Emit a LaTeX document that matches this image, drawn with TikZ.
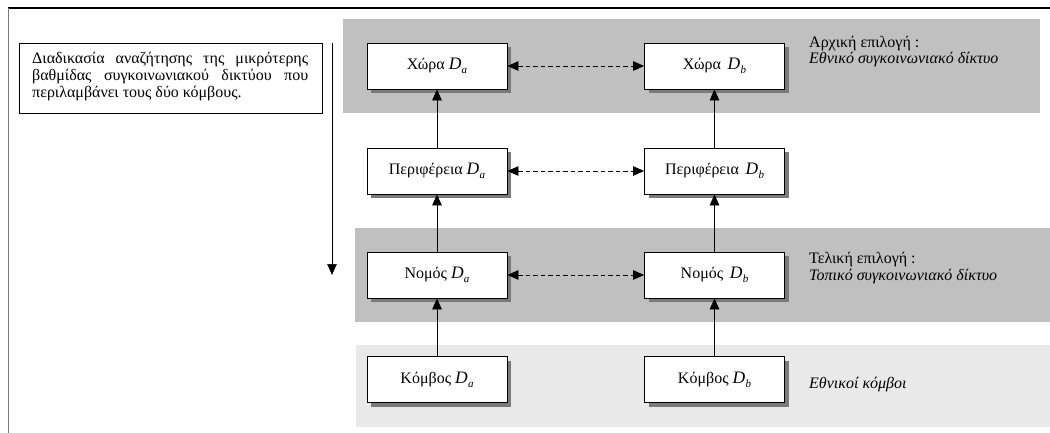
\documentclass[tikz,border=0pt]{standalone}
\usepackage{fontspec}
\setmainfont{Liberation Serif}
\usetikzlibrary{arrows.meta,shadows}
\definecolor{bandgrey}{HTML}{C0C0C0}
\definecolor{bandlight}{HTML}{E9E9E9}
\definecolor{shadowgrey}{HTML}{7A7A7A}
\newcommand\Dx[1]{{\fontsize{17.5}{17.5}\selectfont\itshape D}\kern0.3pt\raisebox{-0.55ex}{\fontsize{11}{11}\selectfont\itshape #1}}
\tikzset{
  x=1pt, y=-1pt,
  lvlbox/.style={draw=black, line width=0.8pt, fill=white, minimum width=140pt,
    minimum height=46pt, inner sep=0pt, font=\fontsize{16}{17}\selectfont,
    drop shadow={shadow xshift=4pt, shadow yshift=-4pt, fill=shadowgrey, opacity=1}},
  uparrow/.style={-{Triangle[length=11pt,width=9.5pt]}, line width=0.7pt},
  linkarrow/.style={{Triangle[length=11pt,width=9.5pt]}-{Triangle[length=11pt,width=9.5pt]},
    line width=0.7pt, dash pattern=on 4.5pt off 3pt},
  note/.style={anchor=base west, inner sep=0pt, font=\fontsize{16}{17}\selectfont},
}
\begin{document}
\begin{tikzpicture}
\useasboundingbox (0,0) rectangle (1050,433);
% frame lines
\draw[line width=1.1pt] (8,8) -- (1050,8);
\draw[shadowgrey, line width=0.9pt] (8,8) -- (8,433);
% level bands
\fill[bandgrey] (343,19) rectangle (1040,113);
\fill[bandgrey] (355,228) rectangle (1050,322);
\fill[bandlight] (356,345) rectangle (1050,427);
% explanation box and search direction
\node[draw=black, line width=0.8pt, anchor=north west, minimum width=303pt,
  minimum height=70pt, inner sep=0pt] (expl) at (19,43) {};
\node[note] (expl1) at (32,64) {\makebox[276pt][s]{Διαδικασία αναζήτησης της μικρότερης}};
\node[note] (expl2) at (32,81) {\makebox[276pt][s]{βαθμίδας συγκοινωνιακού δικτύου που}};
\node[note] (expl3) at (32,98) {περιλαμβάνει τους δύο κόμβους.};
\coordinate (dirs) at (332,43);
\coordinate (dire) at (332,275);
\draw[uparrow] (dirs) -- (dire);
% level boxes
\node[lvlbox] (ca) at (437,66) {Χώρα \Dx{a}};
\node[lvlbox] (cb) at (714.5,66) {Χώρα \,\Dx{b}};
\node[lvlbox] (ra) at (437,171) {Περιφέρεια \Dx{a}};
\node[lvlbox] (rb) at (714.5,171) {Περιφέρεια \,\Dx{b}};
\node[lvlbox] (pa) at (437,275) {Νομός \Dx{a}};
\node[lvlbox] (pb) at (714.5,275) {Νομός \,\Dx{b}};
\node[lvlbox] (ka) at (437,379.5) {Κόμβος \Dx{a}};
\node[lvlbox] (kb) at (714.5,379.5) {Κόμβος \Dx{b}};
% upward links
\draw[uparrow] (ka) -- (pa);
\draw[uparrow] (pa) -- (ra);
\draw[uparrow] (ra) -- (ca);
\draw[uparrow] (kb) -- (pb);
\draw[uparrow] (pb) -- (rb);
\draw[uparrow] (rb) -- (cb);
% dashed two-way links
\draw[linkarrow] (ca) -- (cb);
\draw[linkarrow] (ra) -- (rb);
\draw[linkarrow] (pa) -- (pb);
% band captions
\node[note] (cap1a) at (809,47.5) {Αρχική επιλογή :};
\node[note] (cap1b) at (809,64) {\itshape Εθνικό συγκοινωνιακό δίκτυο};
\node[note] (cap2a) at (809,263) {Τελική επιλογή :};
\node[note] (cap2b) at (809,280) {\itshape Τοπικό συγκοινωνιακό δίκτυο};
\node[note] (cap3) at (809,388) {\itshape Εθνικοί κόμβοι};
\end{tikzpicture}
\end{document}
